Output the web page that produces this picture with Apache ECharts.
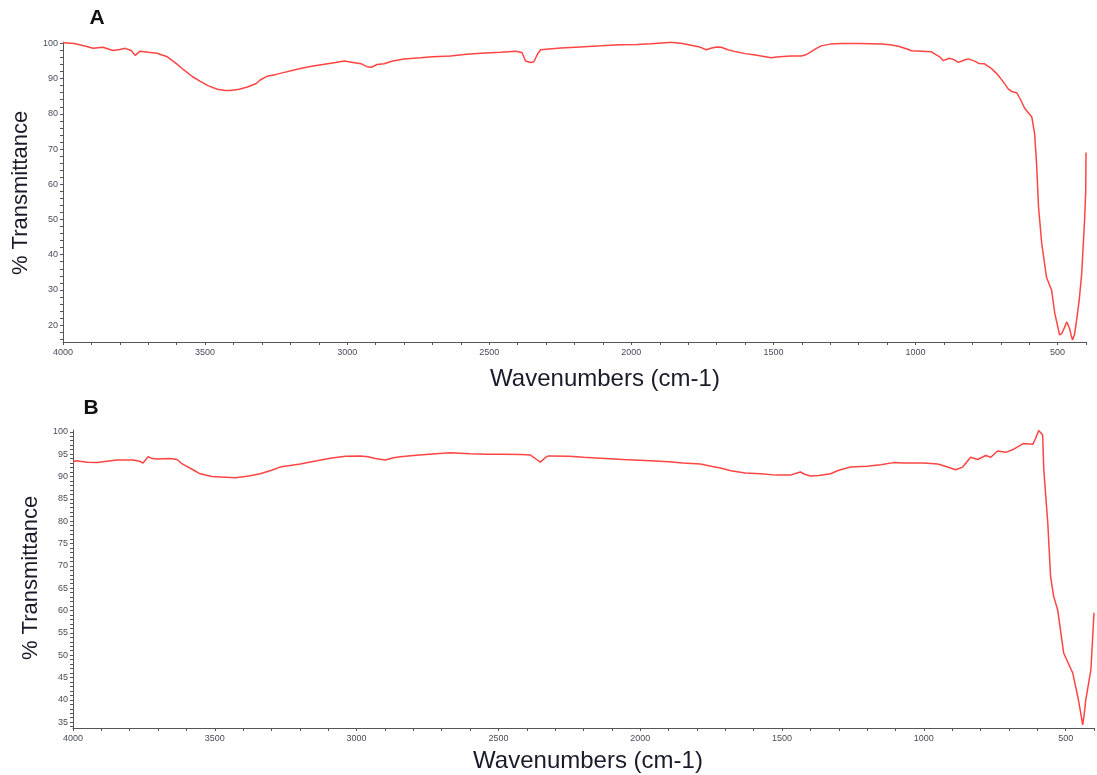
<!DOCTYPE html>
<html>
<head>
<meta charset="utf-8">
<script src="https://cdn.jsdelivr.net/npm/echarts@6/dist/echarts.min.js"></script>
<style>
html,body{margin:0;padding:0;background:#fff;}
#c{width:1097px;height:775px;}
</style>
</head>
<body>
<div id="c"></div>
<script>
// Spectrum A: wavenumber (cm-1) and % transmittance
const wnA = [4000,3960,3920,3894,3860,3824,3800,3781,3760,3746,3729,3700,3669,3633,3600,3577,3545,3517,3490,3457,3430,3411,3380,3351,3320,3306,3281,3250,3225,3190,3165,3120,3080,3040,3010,2980,2950,2930,2915,2895,2870,2840,2800,2742,2700,2636,2580,2530,2460,2407,2385,2372,2355,2343,2330,2319,2280,2248,2180,2107,2040,1980,1931,1880,1860,1820,1790,1760,1737,1720,1700,1684,1660,1631,1600,1570,1543,1508,1480,1437,1402,1385,1374,1350,1332,1300,1261,1200,1160,1120,1090,1060,1030,1014,980,944,915,902,881,865,849,830,814,790,778,757,735,715,695,673,660,644,630,616,600,591,581,574,567,556,539,521,510,493,485,479,472,468,463,458,452,447,440,433,424,415,405,401,400];
const tA  = [100.2,100.0,99.2,98.6,98.9,98.0,98.3,98.6,98.0,96.6,97.8,97.5,97.2,96.2,94.2,92.6,90.6,89.2,88.0,87.0,86.6,86.6,87.0,87.6,88.6,89.6,90.7,91.2,91.7,92.4,92.9,93.6,94.1,94.6,95.0,94.6,94.2,93.4,93.2,94.0,94.2,95.0,95.6,95.9,96.2,96.4,96.9,97.2,97.5,97.8,97.4,95.0,94.6,94.8,97.0,98.2,98.5,98.7,99.0,99.3,99.6,99.7,99.9,100.2,100.3,100.0,99.5,99.0,98.2,98.6,99.0,98.9,98.2,97.6,97.1,96.8,96.4,95.9,96.2,96.4,96.4,96.8,97.3,98.5,99.3,99.8,100.0,100.0,99.9,99.8,99.6,99.2,98.4,97.9,97.8,97.6,96.2,95.1,95.8,95.4,94.6,95.2,95.6,94.9,94.3,94.2,93.0,91.5,89.5,87.0,86.3,86.0,84.0,81.6,80.0,79.2,74.5,66.0,53.5,43.3,33.6,29.9,23.4,17.2,17.6,18.0,20.0,20.9,20.5,19.1,17.0,15.8,17.5,21.4,27.0,34.8,49.8,58.0,69.0];

// Spectrum B
const wnB = [4000,3989,3950,3915,3880,3845,3788,3765,3753,3735,3720,3704,3658,3633,3615,3577,3552,3510,3481,3428,3380,3340,3300,3270,3199,3140,3093,3040,2987,2960,2934,2899,2870,2846,2780,2720,2670,2600,2540,2493,2420,2387,2365,2352,2335,2324,2250,2200,2140,2060,1964,1900,1850,1788,1750,1717,1680,1630,1576,1520,1470,1450,1435,1420,1400,1370,1329,1300,1258,1200,1152,1107,1071,1001,951,916,888,863,835,810,782,764,740,711,683,648,616,606,595,588,581,577,563,553,542,528,507,475,457,448,440,435,429,411,400];
const tB  = [93.3,93.5,93.2,93.1,93.4,93.7,93.7,93.4,93.0,94.4,94.0,93.9,94.0,93.8,92.8,91.5,90.6,90.0,89.9,89.7,90.1,90.6,91.4,92.1,92.8,93.5,94.1,94.5,94.6,94.4,94.0,93.7,94.2,94.4,94.8,95.1,95.3,95.1,95.0,95.0,94.9,94.8,93.8,93.2,94.2,94.6,94.5,94.3,94.1,93.8,93.5,93.3,93.0,92.8,92.3,91.9,91.3,90.8,90.6,90.3,90.3,90.7,91.0,90.5,90.1,90.2,90.6,91.4,92.1,92.3,92.6,93.1,93.0,93.0,92.8,92.1,91.5,92.1,94.3,93.8,94.7,94.3,95.7,95.4,96.1,97.4,97.2,98.5,100.3,100.0,99.3,91.5,79.6,67.5,63.1,60.1,50.5,46.0,40.7,37.5,34.4,36.5,40.0,46.7,59.5];

const xMajor = [500,1000,1500,2000,2500,3000,3500,4000];
const yLabelsA = [20,30,40,50,60,70,80,90,100];
const yLabelsB = [35,40,45,50,55,60,65,70,75,80,85,90,95,100];

function zip(a,b){return a.map((v,i)=>[v,b[i]]);}
function range(a,b,s){const r=[];for(let v=a;v<=b+1e-9;v+=s)r.push(+v.toFixed(3));return r;}

const axisCol = '#555';
const lblStyle = {fontSize:9, color:'#4a4a5a', fontFamily:'Liberation Sans, Arial, sans-serif'};
const nameFont = 'Liberation Sans, Arial, sans-serif';

function xAx(gi){
  return {
    type:'value', gridIndex:gi, inverse:true, min:400, max:4000, interval:100,
    axisLine:{show:true,lineStyle:{color:axisCol,width:1}},
    axisTick:{show:true,length:3,lineStyle:{color:axisCol}},
    axisLabel:Object.assign({margin:6, formatter:v=> xMajor.indexOf(v)>=0 ? String(v) : ''}, lblStyle),
    splitLine:{show:false}
  };
}
function yAx(gi,min,max,labels,ticks){
  return {
    type:'value', gridIndex:gi, min:min, max:max,
    axisLine:{show:true,lineStyle:{color:axisCol,width:1}},
    axisTick:{show:true,length:3,customValues:ticks,lineStyle:{color:axisCol}},
    axisLabel:Object.assign({margin:5, customValues:labels}, lblStyle),
    splitLine:{show:false}
  };
}

const chart = echarts.init(document.getElementById('c'), null, {renderer:'canvas'});
chart.setOption({
  backgroundColor:'#fff',
  animation:false,
  grid:[
    {left:63, top:42, width:1023, height:300},
    {left:73, top:430, width:1022, height:298}
  ],
  xAxis:[xAx(0), xAx(1)],
  yAxis:[
    yAx(0,15.2,100.4,yLabelsA,range(16,100,2)),
    yAx(1,33.7,100.4,yLabelsB,range(34,100,1))
  ],
  series:[
    {type:'line', xAxisIndex:0, yAxisIndex:0, data:zip(wnA,tA), showSymbol:false, lineStyle:{color:'#ff4444', width:1.5}},
    {type:'line', xAxisIndex:1, yAxisIndex:1, data:zip(wnB,tB), showSymbol:false, lineStyle:{color:'#ff4444', width:1.5}}
  ],
  graphic:[
    {type:'text', x:97, y:18, style:{text:'A', fontSize:21, fontWeight:'bold', fontFamily:nameFont, fill:'#111', textAlign:'center', textVerticalAlign:'middle'}},
    {type:'text', x:91, y:408, style:{text:'B', fontSize:21, fontWeight:'bold', fontFamily:nameFont, fill:'#111', textAlign:'center', textVerticalAlign:'middle'}},
    {type:'text', x:21, y:193, rotation:Math.PI/2, style:{text:'% Transmittance', fontSize:22, fontFamily:nameFont, fill:'#1a1a2a', textAlign:'center', textVerticalAlign:'middle'}},
    {type:'text', x:31, y:578, rotation:Math.PI/2, style:{text:'% Transmittance', fontSize:22, fontFamily:nameFont, fill:'#1a1a2a', textAlign:'center', textVerticalAlign:'middle'}},
    {type:'text', x:605, y:379, style:{text:'Wavenumbers (cm-1)', fontSize:24, fontFamily:nameFont, fill:'#1a1a2a', textAlign:'center', textVerticalAlign:'middle'}},
    {type:'text', x:588, y:761, style:{text:'Wavenumbers (cm-1)', fontSize:24, fontFamily:nameFont, fill:'#1a1a2a', textAlign:'center', textVerticalAlign:'middle'}}
  ]
});
</script>
</body>
</html>
